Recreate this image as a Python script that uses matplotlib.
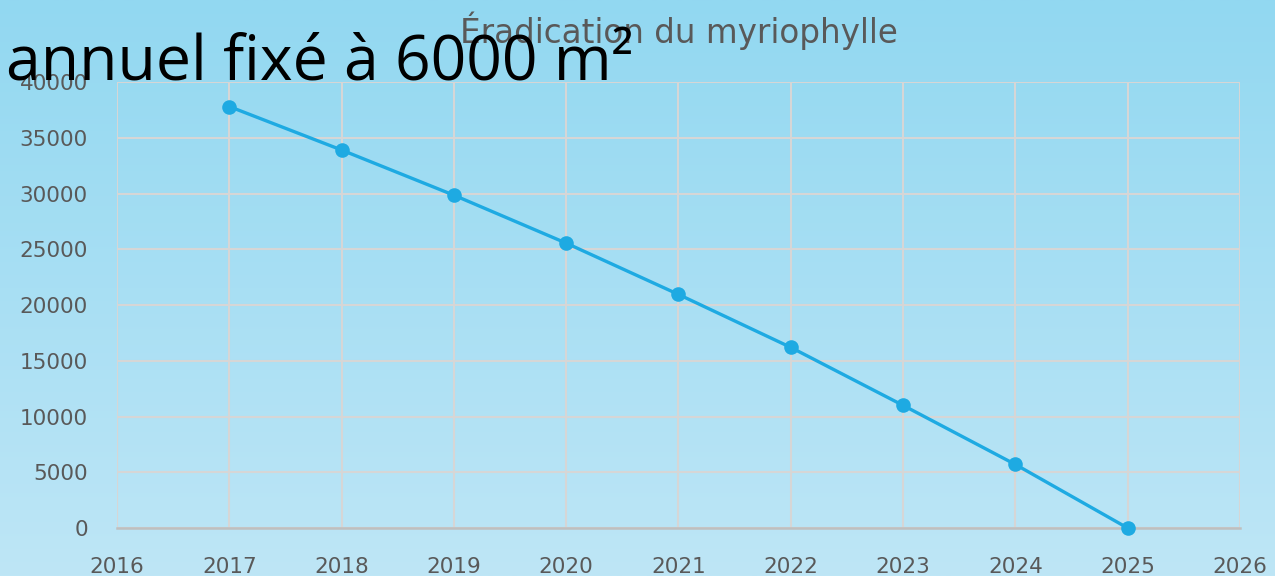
import numpy as np
import matplotlib.pyplot as plt

# data
years = [2017, 2018, 2019, 2020, 2021, 2022, 2023, 2024, 2025]
surface = [37800, 33900, 29850, 25550, 20950, 16200, 11000, 5700, 0]

title = "Éradication du myriophylle"
overflow_text = "annuel fixé à 6000 m²"

plt.rcParams['font.family'] = ['DejaVu Sans']
grey = '#595959'
line_col = '#1eaae2'

fig = plt.figure(figsize=(12.75, 5.76), dpi=100)

# background gradient (darker sky blue on top, lighter at the bottom)
bg = fig.add_axes([0, 0, 1, 1], zorder=-10)
grad = np.linspace(0, 1, 256).reshape(-1, 1)
top = np.array([0x92, 0xd8, 0xf1]) / 255
bottom = np.array([0xbe, 0xe6, 0xf6]) / 255
img = top + (bottom - top) * grad[..., None]
bg.imshow(img, aspect='auto', extent=[0, 1, 0, 1])
bg.axis('off')

ax = fig.add_axes([0.0918, 0.0833, 0.8807, 0.7743])
ax.patch.set_alpha(0)
ax.plot(years, surface, color=line_col, lw=2.4, marker='o', ms=10.5,
        markeredgewidth=0, zorder=3, clip_on=False)

ax.set_xlim(2016, 2026)
ax.set_ylim(0, 40000)
ax.set_xticks(range(2016, 2027))
ax.set_yticks(range(0, 40001, 5000))
ax.grid(True, color='#d6d6d6', lw=1.5)
ax.set_axisbelow(True)
for s in ['top', 'right', 'left']:
    ax.spines[s].set_visible(False)
ax.spines['bottom'].set_color('#bfbfbf')
ax.spines['bottom'].set_linewidth(1.8)
ax.tick_params(axis='x', length=0, labelsize=15.5, colors=grey, pad=21)
ax.tick_params(axis='y', length=0, labelsize=15.5, colors=grey, pad=21)

fig.text(0.5325, 0.947, title, ha='center', va='center', fontsize=23.5, color=grey)
fig.text(0.005, 0.86, overflow_text, ha='left', va='baseline', fontsize=45,
         color='black', family=['Open Sans', 'DejaVu Sans'])

fig.savefig('out.png', dpi=100)
